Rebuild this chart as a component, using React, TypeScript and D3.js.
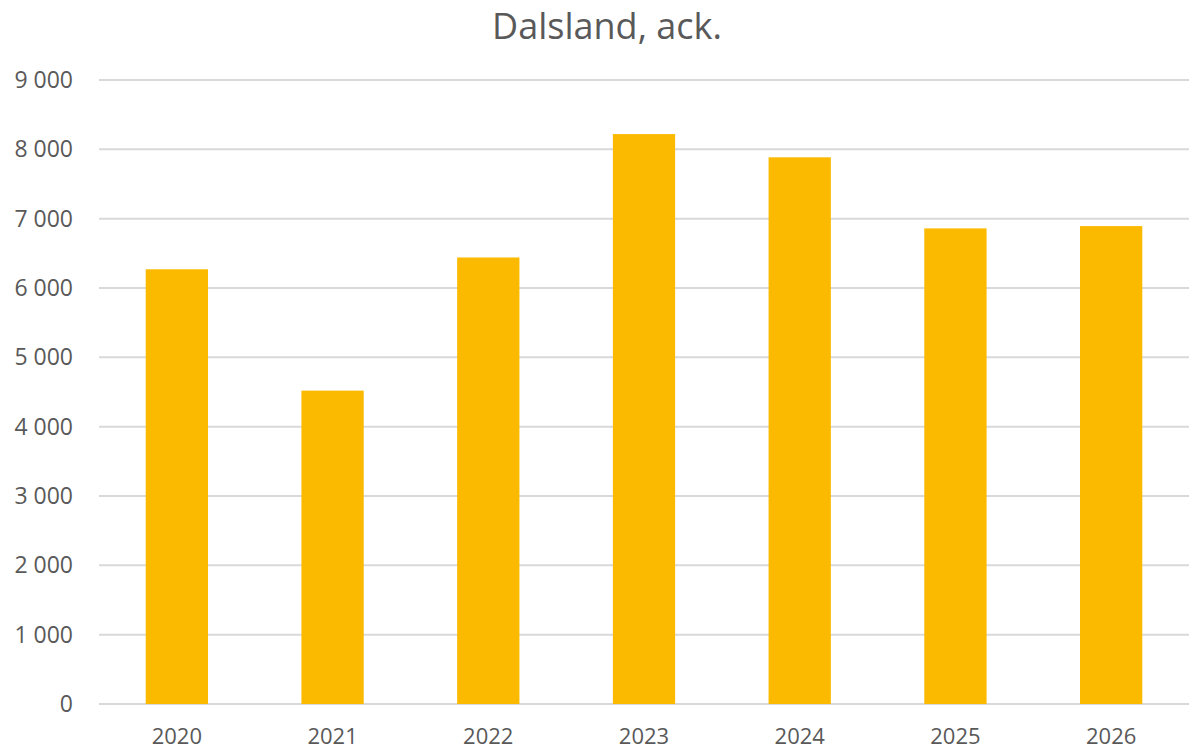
import { useEffect, useRef } from 'react';
import * as d3 from 'd3';

const years = ['2020', '2021', '2022', '2023', '2024', '2025', '2026'];
const values = [6270, 4520, 6440, 8220, 7885, 6860, 6893];
const yTicks = [0, 1000, 2000, 3000, 4000, 5000, 6000, 7000, 8000, 9000];

const WIDTH = 1189;
const HEIGHT = 750;
const FONT = '"Open Sans", sans-serif';

export default function App() {
  const svgRef = useRef<SVGSVGElement>(null);

  useEffect(() => {
    if (!svgRef.current) return;
    const svg = d3.select(svgRef.current);
    svg.selectAll('*').remove();

    const margin = { top: 80, right: 0, bottom: 46, left: 99 };
    const innerW = WIDTH - margin.left - margin.right;
    const innerH = HEIGHT - margin.top - margin.bottom;

    const x = d3.scaleBand().domain(years).range([0, innerW]).padding(0);
    const y = d3.scaleLinear().domain([0, 9000]).range([innerH, 0]);
    const barW = x.bandwidth() * 0.4;

    const fmt = (v: number) => d3.format(',')(v).replace(/,/g, ' ');

    // title
    svg.append('text')
      .attr('x', 607)
      .attr('y', 39)
      .attr('text-anchor', 'middle')
      .attr('fill', '#595959')
      .style('font-family', FONT)
      .style('font-size', '36px')
      .text('Dalsland, ack.');

    const g = svg.append('g')
      .attr('transform', `translate(${margin.left},${margin.top})`);

    // gridlines
    g.selectAll('.grid')
      .data(yTicks)
      .enter()
      .append('line')
      .attr('x1', 0)
      .attr('x2', innerW)
      .attr('y1', d => y(d))
      .attr('y2', d => y(d))
      .attr('stroke', '#D9D9D9')
      .attr('stroke-width', 2);

    // y labels
    g.selectAll('.ylab')
      .data(yTicks)
      .enter()
      .append('text')
      .attr('x', -26)
      .attr('y', d => y(d) + 8)
      .attr('text-anchor', 'end')
      .attr('fill', '#595959')
      .style('font-family', FONT)
      .style('font-size', '23px')
      .text(d => fmt(d));

    // x labels
    g.selectAll('.xlab')
      .data(years)
      .enter()
      .append('text')
      .attr('x', d => (x(d) || 0) + x.bandwidth() / 2)
      .attr('y', innerH + 40)
      .attr('text-anchor', 'middle')
      .attr('fill', '#595959')
      .style('font-family', FONT)
      .style('font-size', '22px')
      .text(d => d);

    // bars
    g.selectAll('.bar')
      .data(values)
      .enter()
      .append('rect')
      .attr('x', (_, i) => (x(years[i]) || 0) + x.bandwidth() / 2 - barW / 2)
      .attr('y', d => y(d))
      .attr('width', barW)
      .attr('height', d => innerH - y(d))
      .attr('fill', '#FBBA00');
  }, []);

  return (
    <svg
      ref={svgRef}
      width={WIDTH}
      height={HEIGHT}
      style={{ position: 'absolute', left: 0, top: 0, background: '#fff' }}
    />
  );
}
